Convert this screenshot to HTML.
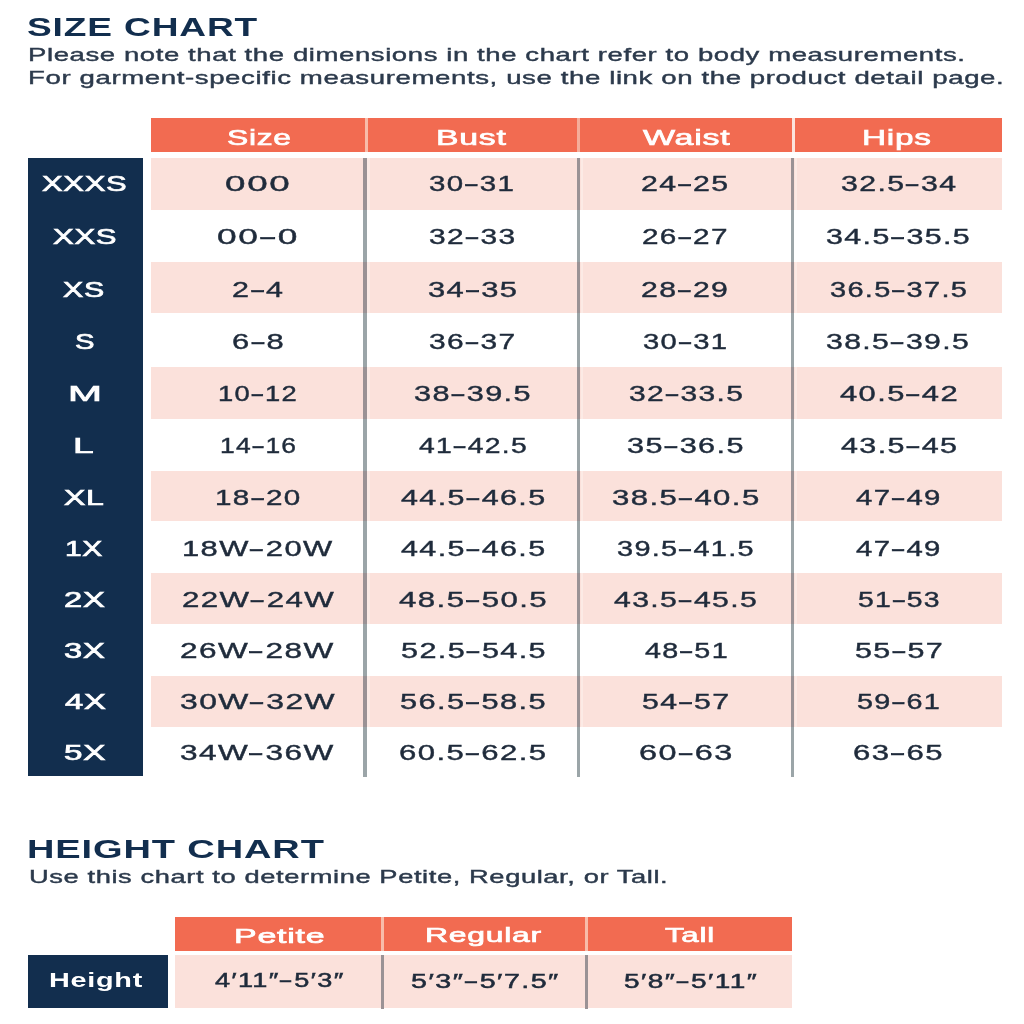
<!DOCTYPE html>
<html><head><meta charset="utf-8"><title>Size Chart</title>
<style>
html,body{margin:0;padding:0;background:#fff;}
body{width:1024px;height:1024px;position:relative;overflow:hidden;font-family:'Liberation Sans', sans-serif;}
.r{position:absolute;}
.t{position:absolute;white-space:nowrap;transform-origin:0 0;}
.d{display:inline-block;transform:scaleX(1.6);margin:0 1.5px}
#wrap{position:absolute;left:0;top:0;width:1024px;height:1024px;filter:blur(0.4px);}
</style></head><body><div id="wrap">
<div class="r" style="left:151.3px;top:118px;width:850.7px;height:34.4px;background:#f26b51;"></div>
<div class="r" style="left:365.2px;top:118px;width:2.6px;height:34.4px;background:#f8bcaa;"></div>
<div class="r" style="left:577.4px;top:118px;width:3.0px;height:34.4px;background:#f5ad9a;"></div>
<div class="r" style="left:791.6px;top:118px;width:3.2px;height:34.4px;background:#fce3dc;"></div>
<div class="r" style="left:151.3px;top:158px;width:850.7px;height:51.5px;background:#fbe1db;"></div>
<div class="r" style="left:367.2px;top:158px;width:2.6px;height:51.5px;background:#fceae5;"></div>
<div class="r" style="left:580.6px;top:158px;width:2.6px;height:51.5px;background:#fceae5;"></div>
<div class="r" style="left:794.6px;top:158px;width:2.6px;height:51.5px;background:#fceae5;"></div>
<div class="r" style="left:151.3px;top:262px;width:850.7px;height:51.30000000000001px;background:#fbe1db;"></div>
<div class="r" style="left:367.2px;top:262px;width:2.6px;height:51.30000000000001px;background:#fceae5;"></div>
<div class="r" style="left:580.6px;top:262px;width:2.6px;height:51.30000000000001px;background:#fceae5;"></div>
<div class="r" style="left:794.6px;top:262px;width:2.6px;height:51.30000000000001px;background:#fceae5;"></div>
<div class="r" style="left:151.3px;top:367.3px;width:850.7px;height:51.69999999999999px;background:#fbe1db;"></div>
<div class="r" style="left:367.2px;top:367.3px;width:2.6px;height:51.69999999999999px;background:#fceae5;"></div>
<div class="r" style="left:580.6px;top:367.3px;width:2.6px;height:51.69999999999999px;background:#fceae5;"></div>
<div class="r" style="left:794.6px;top:367.3px;width:2.6px;height:51.69999999999999px;background:#fceae5;"></div>
<div class="r" style="left:151.3px;top:471px;width:850.7px;height:50px;background:#fbe1db;"></div>
<div class="r" style="left:367.2px;top:471px;width:2.6px;height:50px;background:#fceae5;"></div>
<div class="r" style="left:580.6px;top:471px;width:2.6px;height:50px;background:#fceae5;"></div>
<div class="r" style="left:794.6px;top:471px;width:2.6px;height:50px;background:#fceae5;"></div>
<div class="r" style="left:151.3px;top:573px;width:850.7px;height:50.5px;background:#fbe1db;"></div>
<div class="r" style="left:367.2px;top:573px;width:2.6px;height:50.5px;background:#fceae5;"></div>
<div class="r" style="left:580.6px;top:573px;width:2.6px;height:50.5px;background:#fceae5;"></div>
<div class="r" style="left:794.6px;top:573px;width:2.6px;height:50.5px;background:#fceae5;"></div>
<div class="r" style="left:151.3px;top:676px;width:850.7px;height:51px;background:#fbe1db;"></div>
<div class="r" style="left:367.2px;top:676px;width:2.6px;height:51px;background:#fceae5;"></div>
<div class="r" style="left:580.6px;top:676px;width:2.6px;height:51px;background:#fceae5;"></div>
<div class="r" style="left:794.6px;top:676px;width:2.6px;height:51px;background:#fceae5;"></div>
<div class="r" style="left:28px;top:158px;width:115.2px;height:618.2px;background:#122e4e;"></div>
<div class="r" style="left:363.3px;top:158px;width:3.7px;height:51.5px;background:#9a9295;"></div>
<div class="r" style="left:363.3px;top:209.5px;width:3.7px;height:52.5px;background:#9ba5a8;"></div>
<div class="r" style="left:363.3px;top:262px;width:3.7px;height:51.30000000000001px;background:#9a9295;"></div>
<div class="r" style="left:363.3px;top:313.3px;width:3.7px;height:54.0px;background:#9ba5a8;"></div>
<div class="r" style="left:363.3px;top:367.3px;width:3.7px;height:51.69999999999999px;background:#9a9295;"></div>
<div class="r" style="left:363.3px;top:419px;width:3.7px;height:52px;background:#9ba5a8;"></div>
<div class="r" style="left:363.3px;top:471px;width:3.7px;height:50px;background:#9a9295;"></div>
<div class="r" style="left:363.3px;top:521px;width:3.7px;height:52px;background:#9ba5a8;"></div>
<div class="r" style="left:363.3px;top:573px;width:3.7px;height:50.5px;background:#9a9295;"></div>
<div class="r" style="left:363.3px;top:623.5px;width:3.7px;height:52.5px;background:#9ba5a8;"></div>
<div class="r" style="left:363.3px;top:676px;width:3.7px;height:51px;background:#9a9295;"></div>
<div class="r" style="left:363.3px;top:727px;width:3.7px;height:50px;background:#9ba5a8;"></div>
<div class="r" style="left:576.7px;top:158px;width:3.7px;height:51.5px;background:#9a9295;"></div>
<div class="r" style="left:576.7px;top:209.5px;width:3.7px;height:52.5px;background:#9ba5a8;"></div>
<div class="r" style="left:576.7px;top:262px;width:3.7px;height:51.30000000000001px;background:#9a9295;"></div>
<div class="r" style="left:576.7px;top:313.3px;width:3.7px;height:54.0px;background:#9ba5a8;"></div>
<div class="r" style="left:576.7px;top:367.3px;width:3.7px;height:51.69999999999999px;background:#9a9295;"></div>
<div class="r" style="left:576.7px;top:419px;width:3.7px;height:52px;background:#9ba5a8;"></div>
<div class="r" style="left:576.7px;top:471px;width:3.7px;height:50px;background:#9a9295;"></div>
<div class="r" style="left:576.7px;top:521px;width:3.7px;height:52px;background:#9ba5a8;"></div>
<div class="r" style="left:576.7px;top:573px;width:3.7px;height:50.5px;background:#9a9295;"></div>
<div class="r" style="left:576.7px;top:623.5px;width:3.7px;height:52.5px;background:#9ba5a8;"></div>
<div class="r" style="left:576.7px;top:676px;width:3.7px;height:51px;background:#9a9295;"></div>
<div class="r" style="left:576.7px;top:727px;width:3.7px;height:50px;background:#9ba5a8;"></div>
<div class="r" style="left:790.8px;top:158px;width:3.7px;height:51.5px;background:#9a9295;"></div>
<div class="r" style="left:790.8px;top:209.5px;width:3.7px;height:52.5px;background:#9ba5a8;"></div>
<div class="r" style="left:790.8px;top:262px;width:3.7px;height:51.30000000000001px;background:#9a9295;"></div>
<div class="r" style="left:790.8px;top:313.3px;width:3.7px;height:54.0px;background:#9ba5a8;"></div>
<div class="r" style="left:790.8px;top:367.3px;width:3.7px;height:51.69999999999999px;background:#9a9295;"></div>
<div class="r" style="left:790.8px;top:419px;width:3.7px;height:52px;background:#9ba5a8;"></div>
<div class="r" style="left:790.8px;top:471px;width:3.7px;height:50px;background:#9a9295;"></div>
<div class="r" style="left:790.8px;top:521px;width:3.7px;height:52px;background:#9ba5a8;"></div>
<div class="r" style="left:790.8px;top:573px;width:3.7px;height:50.5px;background:#9a9295;"></div>
<div class="r" style="left:790.8px;top:623.5px;width:3.7px;height:52.5px;background:#9ba5a8;"></div>
<div class="r" style="left:790.8px;top:676px;width:3.7px;height:51px;background:#9a9295;"></div>
<div class="r" style="left:790.8px;top:727px;width:3.7px;height:50px;background:#9ba5a8;"></div>
<div class="r" style="left:175px;top:917.3px;width:617px;height:33.5px;background:#f26b51;"></div>
<div class="r" style="left:381px;top:917.3px;width:3.2px;height:33.5px;background:#f8bcaa;"></div>
<div class="r" style="left:585.2px;top:917.3px;width:3.2px;height:33.5px;background:#f8bcaa;"></div>
<div class="r" style="left:175.2px;top:955.3px;width:616.8px;height:53px;background:#fbe1db;"></div>
<div class="r" style="left:27.5px;top:955.3px;width:140.2px;height:53px;background:#122e4e;"></div>
<div class="r" style="left:380.8px;top:955.0px;width:3.4px;height:53.6px;background:#9a9295;"></div>
<div class="r" style="left:584.6px;top:955.0px;width:3.4px;height:53.6px;background:#9a9295;"></div>
<div class="t" style="left:27.15px;top:14.60px;font:700 25.6px/25.6px 'Liberation Sans', sans-serif;letter-spacing:0.6px;color:#122e4e;transform:scaleX(1.4481);">SIZE CHART</div>
<div class="t" style="left:27.60px;top:46.20px;font:400 18.4px/18.4px 'Liberation Sans', sans-serif;letter-spacing:0.4px;color:#2c3a4c;transform:scaleX(1.4957);-webkit-text-stroke:0.4px #2c3a4c;">Please note that the dimensions in the chart refer to body measurements.</div>
<div class="t" style="left:27.60px;top:69.40px;font:400 18.4px/18.4px 'Liberation Sans', sans-serif;letter-spacing:0.4px;color:#2c3a4c;transform:scaleX(1.5009);-webkit-text-stroke:0.4px #2c3a4c;">For garment-specific measurements, use the link on the product detail page.</div>
<div class="t" style="left:26.85px;top:837.00px;font:700 25.8px/25.8px 'Liberation Sans', sans-serif;letter-spacing:0.6px;color:#122e4e;transform:scaleX(1.4734);">HEIGHT CHART</div>
<div class="t" style="left:28.52px;top:867.80px;font:400 18.4px/18.4px 'Liberation Sans', sans-serif;letter-spacing:0.4px;color:#2c3a4c;transform:scaleX(1.4841);-webkit-text-stroke:0.4px #2c3a4c;">Use this chart to determine Petite, Regular, or Tall.</div>
<div class="t" style="left:226.58px;top:126.50px;font:400 22.4px/22.4px 'Liberation Sans', sans-serif;letter-spacing:0.5px;color:#fff;transform:scaleX(1.4209);-webkit-text-stroke:0.7px #fff;">Size</div>
<div class="t" style="left:436.48px;top:126.50px;font:400 22.4px/22.4px 'Liberation Sans', sans-serif;letter-spacing:0.5px;color:#fff;transform:scaleX(1.5091);-webkit-text-stroke:0.7px #fff;">Bust</div>
<div class="t" style="left:643.10px;top:126.50px;font:400 22.4px/22.4px 'Liberation Sans', sans-serif;letter-spacing:0.5px;color:#fff;transform:scaleX(1.5175);-webkit-text-stroke:0.7px #fff;">Waist</div>
<div class="t" style="left:862.12px;top:126.50px;font:400 22.4px/22.4px 'Liberation Sans', sans-serif;letter-spacing:0.5px;color:#fff;transform:scaleX(1.4886);-webkit-text-stroke:0.7px #fff;">Hips</div>
<div class="t" style="left:233.77px;top:924.50px;font:400 21.0px/21.0px 'Liberation Sans', sans-serif;letter-spacing:0.5px;color:#fff;transform:scaleX(1.6132);-webkit-text-stroke:0.7px #fff;">Petite</div>
<div class="t" style="left:424.96px;top:924.00px;font:400 21.0px/21.0px 'Liberation Sans', sans-serif;letter-spacing:0.5px;color:#fff;transform:scaleX(1.5176);-webkit-text-stroke:0.7px #fff;">Regular</div>
<div class="t" style="left:665.00px;top:924.00px;font:400 21.0px/21.0px 'Liberation Sans', sans-serif;letter-spacing:0.5px;color:#fff;transform:scaleX(1.4875);-webkit-text-stroke:0.7px #fff;">Tall</div>
<div class="t" style="left:42.37px;top:173.30px;font:400 21.6px/21.6px 'Liberation Sans', sans-serif;letter-spacing:0.5px;color:#fff;transform:scaleX(1.4333);-webkit-text-stroke:0.7px #fff;">XXXS</div>
<div class="t" style="left:53.16px;top:225.80px;font:400 21.6px/21.6px 'Liberation Sans', sans-serif;letter-spacing:0.5px;color:#fff;transform:scaleX(1.4381);-webkit-text-stroke:0.7px #fff;">XXS</div>
<div class="t" style="left:63.40px;top:278.50px;font:400 21.6px/21.6px 'Liberation Sans', sans-serif;letter-spacing:0.5px;color:#fff;transform:scaleX(1.4036);-webkit-text-stroke:0.7px #fff;">XS</div>
<div class="t" style="left:74.85px;top:330.50px;font:400 21.6px/21.6px 'Liberation Sans', sans-serif;letter-spacing:0.5px;color:#fff;transform:scaleX(1.3538);-webkit-text-stroke:0.7px #fff;">S</div>
<div class="t" style="left:68.13px;top:382.70px;font:400 21.6px/21.6px 'Liberation Sans', sans-serif;letter-spacing:0.5px;color:#fff;transform:scaleX(1.8857);-webkit-text-stroke:0.7px #fff;">M</div>
<div class="t" style="left:73.36px;top:435.30px;font:400 21.6px/21.6px 'Liberation Sans', sans-serif;letter-spacing:0.5px;color:#fff;transform:scaleX(1.7200);-webkit-text-stroke:0.7px #fff;">L</div>
<div class="t" style="left:64.22px;top:486.80px;font:400 21.6px/21.6px 'Liberation Sans', sans-serif;letter-spacing:0.5px;color:#fff;transform:scaleX(1.4808);-webkit-text-stroke:0.7px #fff;">XL</div>
<div class="t" style="left:65.02px;top:538.30px;font:400 21.6px/21.6px 'Liberation Sans', sans-serif;letter-spacing:0.5px;color:#fff;transform:scaleX(1.3875);-webkit-text-stroke:0.7px #fff;">1X</div>
<div class="t" style="left:64.18px;top:589.10px;font:400 21.6px/21.6px 'Liberation Sans', sans-serif;letter-spacing:0.5px;color:#fff;transform:scaleX(1.5160);-webkit-text-stroke:0.7px #fff;">2X</div>
<div class="t" style="left:64.18px;top:640.30px;font:400 21.6px/21.6px 'Liberation Sans', sans-serif;letter-spacing:0.5px;color:#fff;transform:scaleX(1.5160);-webkit-text-stroke:0.7px #fff;">3X</div>
<div class="t" style="left:64.80px;top:691.20px;font:400 21.6px/21.6px 'Liberation Sans', sans-serif;letter-spacing:0.5px;color:#fff;transform:scaleX(1.5154);-webkit-text-stroke:0.7px #fff;">4X</div>
<div class="t" style="left:64.16px;top:742.00px;font:400 21.6px/21.6px 'Liberation Sans', sans-serif;letter-spacing:0.5px;color:#fff;transform:scaleX(1.5400);-webkit-text-stroke:0.7px #fff;">5X</div>
<div class="t" style="left:225.11px;top:173.30px;font:400 21.8px/21.8px 'Liberation Sans', sans-serif;letter-spacing:1.0px;color:#1f2b3b;transform:scaleX(1.6865);-webkit-text-stroke:0.42px #1f2b3b;">000</div>
<div class="t" style="left:217.38px;top:225.80px;font:400 21.8px/21.8px 'Liberation Sans', sans-serif;letter-spacing:1.0px;color:#1f2b3b;transform:scaleX(1.6187);-webkit-text-stroke:0.42px #1f2b3b;">00<span class="d">-</span>0</div>
<div class="t" style="left:232.40px;top:278.50px;font:400 21.8px/21.8px 'Liberation Sans', sans-serif;letter-spacing:1.0px;color:#1f2b3b;transform:scaleX(1.3971);-webkit-text-stroke:0.42px #1f2b3b;">2<span class="d">-</span>4</div>
<div class="t" style="left:232.38px;top:330.50px;font:400 21.8px/21.8px 'Liberation Sans', sans-serif;letter-spacing:1.0px;color:#1f2b3b;transform:scaleX(1.4171);-webkit-text-stroke:0.42px #1f2b3b;">6<span class="d">-</span>8</div>
<div class="t" style="left:217.99px;top:382.70px;font:400 21.8px/21.8px 'Liberation Sans', sans-serif;letter-spacing:1.0px;color:#1f2b3b;transform:scaleX(1.2533);-webkit-text-stroke:0.42px #1f2b3b;">10<span class="d">-</span>12</div>
<div class="t" style="left:219.68px;top:435.30px;font:400 21.8px/21.8px 'Liberation Sans', sans-serif;letter-spacing:1.0px;color:#1f2b3b;transform:scaleX(1.2117);-webkit-text-stroke:0.42px #1f2b3b;">14<span class="d">-</span>16</div>
<div class="t" style="left:214.88px;top:486.80px;font:400 21.8px/21.8px 'Liberation Sans', sans-serif;letter-spacing:1.0px;color:#1f2b3b;transform:scaleX(1.3583);-webkit-text-stroke:0.42px #1f2b3b;">18<span class="d">-</span>20</div>
<div class="t" style="left:181.56px;top:538.30px;font:400 21.8px/21.8px 'Liberation Sans', sans-serif;letter-spacing:1.0px;color:#1f2b3b;transform:scaleX(1.4183);-webkit-text-stroke:0.42px #1f2b3b;">18W<span class="d">-</span>20W</div>
<div class="t" style="left:181.57px;top:589.10px;font:400 21.8px/21.8px 'Liberation Sans', sans-serif;letter-spacing:1.0px;color:#1f2b3b;transform:scaleX(1.4324);-webkit-text-stroke:0.42px #1f2b3b;">22W<span class="d">-</span>24W</div>
<div class="t" style="left:180.45px;top:640.30px;font:400 21.8px/21.8px 'Liberation Sans', sans-serif;letter-spacing:1.0px;color:#1f2b3b;transform:scaleX(1.4467);-webkit-text-stroke:0.42px #1f2b3b;">26W<span class="d">-</span>28W</div>
<div class="t" style="left:179.64px;top:691.20px;font:400 21.8px/21.8px 'Liberation Sans', sans-serif;letter-spacing:1.0px;color:#1f2b3b;transform:scaleX(1.4600);-webkit-text-stroke:0.42px #1f2b3b;">30W<span class="d">-</span>32W</div>
<div class="t" style="left:180.45px;top:742.00px;font:400 21.8px/21.8px 'Liberation Sans', sans-serif;letter-spacing:1.0px;color:#1f2b3b;transform:scaleX(1.4467);-webkit-text-stroke:0.42px #1f2b3b;">34W<span class="d">-</span>36W</div>
<div class="t" style="left:429.25px;top:173.30px;font:400 21.8px/21.8px 'Liberation Sans', sans-serif;letter-spacing:1.0px;color:#1f2b3b;transform:scaleX(1.3508);-webkit-text-stroke:0.42px #1f2b3b;">30<span class="d">-</span>31</div>
<div class="t" style="left:429.23px;top:225.80px;font:400 21.8px/21.8px 'Liberation Sans', sans-serif;letter-spacing:1.0px;color:#1f2b3b;transform:scaleX(1.3705);-webkit-text-stroke:0.42px #1f2b3b;">32<span class="d">-</span>33</div>
<div class="t" style="left:427.78px;top:278.50px;font:400 21.8px/21.8px 'Liberation Sans', sans-serif;letter-spacing:1.0px;color:#1f2b3b;transform:scaleX(1.4164);-webkit-text-stroke:0.42px #1f2b3b;">34<span class="d">-</span>35</div>
<div class="t" style="left:429.23px;top:330.50px;font:400 21.8px/21.8px 'Liberation Sans', sans-serif;letter-spacing:1.0px;color:#1f2b3b;transform:scaleX(1.3705);-webkit-text-stroke:0.42px #1f2b3b;">36<span class="d">-</span>37</div>
<div class="t" style="left:414.00px;top:382.70px;font:400 21.8px/21.8px 'Liberation Sans', sans-serif;letter-spacing:1.0px;color:#1f2b3b;transform:scaleX(1.4049);-webkit-text-stroke:0.42px #1f2b3b;">38<span class="d">-</span>39.5</div>
<div class="t" style="left:418.90px;top:435.30px;font:400 21.8px/21.8px 'Liberation Sans', sans-serif;letter-spacing:1.0px;color:#1f2b3b;transform:scaleX(1.2976);-webkit-text-stroke:0.42px #1f2b3b;">41<span class="d">-</span>42.5</div>
<div class="t" style="left:400.90px;top:486.80px;font:400 21.8px/21.8px 'Liberation Sans', sans-serif;letter-spacing:1.0px;color:#1f2b3b;transform:scaleX(1.3980);-webkit-text-stroke:0.42px #1f2b3b;">44.5<span class="d">-</span>46.5</div>
<div class="t" style="left:400.90px;top:538.30px;font:400 21.8px/21.8px 'Liberation Sans', sans-serif;letter-spacing:1.0px;color:#1f2b3b;transform:scaleX(1.3980);-webkit-text-stroke:0.42px #1f2b3b;">44.5<span class="d">-</span>46.5</div>
<div class="t" style="left:399.30px;top:589.10px;font:400 21.8px/21.8px 'Liberation Sans', sans-serif;letter-spacing:1.0px;color:#1f2b3b;transform:scaleX(1.4324);-webkit-text-stroke:0.42px #1f2b3b;">48.5<span class="d">-</span>50.5</div>
<div class="t" style="left:400.90px;top:640.30px;font:400 21.8px/21.8px 'Liberation Sans', sans-serif;letter-spacing:1.0px;color:#1f2b3b;transform:scaleX(1.4020);-webkit-text-stroke:0.42px #1f2b3b;">52.5<span class="d">-</span>54.5</div>
<div class="t" style="left:399.89px;top:691.20px;font:400 21.8px/21.8px 'Liberation Sans', sans-serif;letter-spacing:1.0px;color:#1f2b3b;transform:scaleX(1.4119);-webkit-text-stroke:0.42px #1f2b3b;">56.5<span class="d">-</span>58.5</div>
<div class="t" style="left:399.47px;top:742.00px;font:400 21.8px/21.8px 'Liberation Sans', sans-serif;letter-spacing:1.0px;color:#1f2b3b;transform:scaleX(1.4257);-webkit-text-stroke:0.42px #1f2b3b;">60.5<span class="d">-</span>62.5</div>
<div class="t" style="left:640.91px;top:173.30px;font:400 21.8px/21.8px 'Liberation Sans', sans-serif;letter-spacing:1.0px;color:#1f2b3b;transform:scaleX(1.3885);-webkit-text-stroke:0.42px #1f2b3b;">24<span class="d">-</span>25</div>
<div class="t" style="left:642.24px;top:225.80px;font:400 21.8px/21.8px 'Liberation Sans', sans-serif;letter-spacing:1.0px;color:#1f2b3b;transform:scaleX(1.3607);-webkit-text-stroke:0.42px #1f2b3b;">26<span class="d">-</span>27</div>
<div class="t" style="left:641.22px;top:278.50px;font:400 21.8px/21.8px 'Liberation Sans', sans-serif;letter-spacing:1.0px;color:#1f2b3b;transform:scaleX(1.3836);-webkit-text-stroke:0.42px #1f2b3b;">28<span class="d">-</span>29</div>
<div class="t" style="left:643.26px;top:330.50px;font:400 21.8px/21.8px 'Liberation Sans', sans-serif;letter-spacing:1.0px;color:#1f2b3b;transform:scaleX(1.3377);-webkit-text-stroke:0.42px #1f2b3b;">30<span class="d">-</span>31</div>
<div class="t" style="left:628.63px;top:382.70px;font:400 21.8px/21.8px 'Liberation Sans', sans-serif;letter-spacing:1.0px;color:#1f2b3b;transform:scaleX(1.3741);-webkit-text-stroke:0.42px #1f2b3b;">32<span class="d">-</span>33.5</div>
<div class="t" style="left:627.20px;top:435.30px;font:400 21.8px/21.8px 'Liberation Sans', sans-serif;letter-spacing:1.0px;color:#1f2b3b;transform:scaleX(1.4037);-webkit-text-stroke:0.42px #1f2b3b;">35<span class="d">-</span>36.5</div>
<div class="t" style="left:611.87px;top:486.80px;font:400 21.8px/21.8px 'Liberation Sans', sans-serif;letter-spacing:1.0px;color:#1f2b3b;transform:scaleX(1.4277);-webkit-text-stroke:0.42px #1f2b3b;">38.5<span class="d">-</span>40.5</div>
<div class="t" style="left:616.88px;top:538.30px;font:400 21.8px/21.8px 'Liberation Sans', sans-serif;letter-spacing:1.0px;color:#1f2b3b;transform:scaleX(1.3248);-webkit-text-stroke:0.42px #1f2b3b;">39.5<span class="d">-</span>41.5</div>
<div class="t" style="left:614.30px;top:589.10px;font:400 21.8px/21.8px 'Liberation Sans', sans-serif;letter-spacing:1.0px;color:#1f2b3b;transform:scaleX(1.3843);-webkit-text-stroke:0.42px #1f2b3b;">43.5<span class="d">-</span>45.5</div>
<div class="t" style="left:644.60px;top:640.30px;font:400 21.8px/21.8px 'Liberation Sans', sans-serif;letter-spacing:1.0px;color:#1f2b3b;transform:scaleX(1.3161);-webkit-text-stroke:0.42px #1f2b3b;">48<span class="d">-</span>51</div>
<div class="t" style="left:642.21px;top:691.20px;font:400 21.8px/21.8px 'Liberation Sans', sans-serif;letter-spacing:1.0px;color:#1f2b3b;transform:scaleX(1.3869);-webkit-text-stroke:0.42px #1f2b3b;">54<span class="d">-</span>57</div>
<div class="t" style="left:638.81px;top:742.00px;font:400 21.8px/21.8px 'Liberation Sans', sans-serif;letter-spacing:1.0px;color:#1f2b3b;transform:scaleX(1.4852);-webkit-text-stroke:0.42px #1f2b3b;">60<span class="d">-</span>63</div>
<div class="t" style="left:840.61px;top:173.30px;font:400 21.8px/21.8px 'Liberation Sans', sans-serif;letter-spacing:1.0px;color:#1f2b3b;transform:scaleX(1.3864);-webkit-text-stroke:0.42px #1f2b3b;">32.5<span class="d">-</span>34</div>
<div class="t" style="left:825.91px;top:225.80px;font:400 21.8px/21.8px 'Liberation Sans', sans-serif;letter-spacing:1.0px;color:#1f2b3b;transform:scaleX(1.3931);-webkit-text-stroke:0.42px #1f2b3b;">34.5<span class="d">-</span>35.5</div>
<div class="t" style="left:829.57px;top:278.50px;font:400 21.8px/21.8px 'Liberation Sans', sans-serif;letter-spacing:1.0px;color:#1f2b3b;transform:scaleX(1.3277);-webkit-text-stroke:0.42px #1f2b3b;">36.5<span class="d">-</span>37.5</div>
<div class="t" style="left:826.31px;top:330.50px;font:400 21.8px/21.8px 'Liberation Sans', sans-serif;letter-spacing:1.0px;color:#1f2b3b;transform:scaleX(1.3851);-webkit-text-stroke:0.42px #1f2b3b;">38.5<span class="d">-</span>39.5</div>
<div class="t" style="left:840.00px;top:382.70px;font:400 21.8px/21.8px 'Liberation Sans', sans-serif;letter-spacing:1.0px;color:#1f2b3b;transform:scaleX(1.4183);-webkit-text-stroke:0.42px #1f2b3b;">40.5<span class="d">-</span>42</div>
<div class="t" style="left:840.60px;top:435.30px;font:400 21.8px/21.8px 'Liberation Sans', sans-serif;letter-spacing:1.0px;color:#1f2b3b;transform:scaleX(1.3988);-webkit-text-stroke:0.42px #1f2b3b;">43.5<span class="d">-</span>45</div>
<div class="t" style="left:856.30px;top:486.80px;font:400 21.8px/21.8px 'Liberation Sans', sans-serif;letter-spacing:1.0px;color:#1f2b3b;transform:scaleX(1.3435);-webkit-text-stroke:0.42px #1f2b3b;">47<span class="d">-</span>49</div>
<div class="t" style="left:856.30px;top:538.30px;font:400 21.8px/21.8px 'Liberation Sans', sans-serif;letter-spacing:1.0px;color:#1f2b3b;transform:scaleX(1.3435);-webkit-text-stroke:0.42px #1f2b3b;">47<span class="d">-</span>49</div>
<div class="t" style="left:857.70px;top:589.10px;font:400 21.8px/21.8px 'Liberation Sans', sans-serif;letter-spacing:1.0px;color:#1f2b3b;transform:scaleX(1.3000);-webkit-text-stroke:0.42px #1f2b3b;">51<span class="d">-</span>53</div>
<div class="t" style="left:854.90px;top:640.30px;font:400 21.8px/21.8px 'Liberation Sans', sans-serif;letter-spacing:1.0px;color:#1f2b3b;transform:scaleX(1.3984);-webkit-text-stroke:0.42px #1f2b3b;">55<span class="d">-</span>57</div>
<div class="t" style="left:857.28px;top:691.20px;font:400 21.8px/21.8px 'Liberation Sans', sans-serif;letter-spacing:1.0px;color:#1f2b3b;transform:scaleX(1.3197);-webkit-text-stroke:0.42px #1f2b3b;">59<span class="d">-</span>61</div>
<div class="t" style="left:853.28px;top:742.00px;font:400 21.8px/21.8px 'Liberation Sans', sans-serif;letter-spacing:1.0px;color:#1f2b3b;transform:scaleX(1.4246);-webkit-text-stroke:0.42px #1f2b3b;">63<span class="d">-</span>65</div>
<div class="t" style="left:48.94px;top:971.30px;font:700 19.8px/19.8px 'Liberation Sans', sans-serif;letter-spacing:0.5px;color:#fff;transform:scaleX(1.4571);">Height</div>
<div class="t" style="left:214.70px;top:971.20px;font:400 19.6px/19.6px 'Liberation Sans', sans-serif;letter-spacing:1.0px;color:#1f2b3b;transform:scaleX(1.3826);-webkit-text-stroke:0.5px #1f2b3b;">4′11″<span class="d">-</span>5′3″</div>
<div class="t" style="left:410.54px;top:971.50px;font:400 19.6px/19.6px 'Liberation Sans', sans-serif;letter-spacing:1.0px;color:#1f2b3b;transform:scaleX(1.4626);-webkit-text-stroke:0.5px #1f2b3b;">5′3″<span class="d">-</span>5′7.5″</div>
<div class="t" style="left:623.77px;top:971.50px;font:400 19.6px/19.6px 'Liberation Sans', sans-serif;letter-spacing:1.0px;color:#1f2b3b;transform:scaleX(1.4286);-webkit-text-stroke:0.5px #1f2b3b;">5′8″<span class="d">-</span>5′11″</div>
</div></body></html>
